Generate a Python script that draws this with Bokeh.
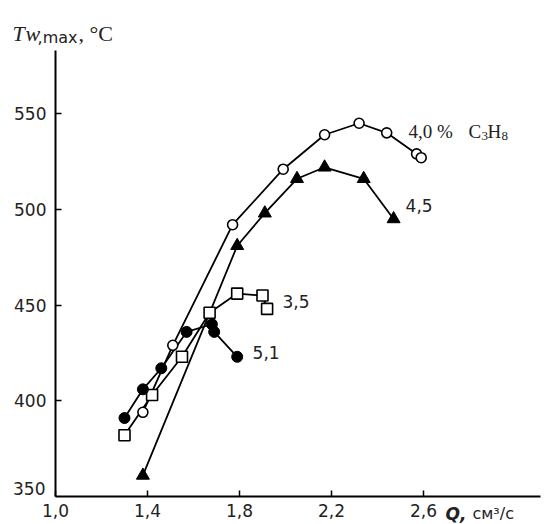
from bokeh.plotting import figure
from bokeh.models import Range1d, FixedTicker, Label
from bokeh.embed import file_html
from bokeh.resources import INLINE

# Data
q40 = [1.38, 1.51, 1.77, 1.99, 2.17, 2.32, 2.44, 2.57, 2.59]
t40 = [394, 429, 492, 521, 539, 545, 540, 529, 527]
q45 = [1.38, 1.79, 1.91, 2.05, 2.17, 2.34, 2.47]
t45 = [361, 481, 498, 516, 522, 516, 495]
q35 = [1.30, 1.42, 1.55, 1.67, 1.79, 1.90, 1.92]
t35 = [382, 403, 423, 446, 456, 455, 448]
q51 = [1.30, 1.38, 1.46, 1.57, 1.68, 1.69, 1.79]
t51 = [391, 406, 417, 436, 440, 436, 423]

x_ticks = [1.0, 1.4, 1.8, 2.2, 2.6]
x_tick_labels = ["1,0", "1,4", "1,8", "2,2", "2,6"]
y_ticks = [400, 450, 500, 550]
y_first_label = "350"

series_labels = ["4,5", "3,5", "5,1"]

X0, X1 = 1.0, 3.109
Y0, Y1 = 350, 583

# frame covers whole canvas; axes are drawn at fixed data locations
p = figure(width=551, height=524, output_backend="svg", toolbar_location=None,
           x_range=Range1d(0.7609, 3.1565), y_range=Range1d(335.37, 609.14),
           min_border_left=0, min_border_right=0, min_border_top=0, min_border_bottom=0)
p.background_fill_color = "white"
p.border_fill_color = "white"
p.outline_line_color = None
p.grid.grid_line_color = None

for ax in (p.xaxis, p.yaxis):
    ax.axis_line_width = 2
    ax.axis_line_color = "black"
    ax.major_tick_in = 6
    ax.major_tick_out = 0
    ax.minor_tick_line_color = None
    ax.major_tick_line_width = 1.5
    ax.major_tick_line_color = "black"
    ax.major_label_text_font = "DejaVu Sans"
    ax.major_label_text_font_size = "17px"
    ax.major_label_text_color = "#222222"

p.xaxis.fixed_location = Y0
p.xaxis.bounds = (X0, X1)
p.xaxis.ticker = FixedTicker(ticks=x_ticks)
p.xaxis.major_label_overrides = {t: l for t, l in zip(x_ticks, x_tick_labels)}
p.xaxis.major_label_standoff = 8

p.yaxis.fixed_location = X0
p.yaxis.bounds = (Y0, Y1)
p.yaxis.ticker = FixedTicker(ticks=y_ticks)
p.yaxis.major_label_standoff = 9

# raised "350" label at the corner, as in the original
p.add_layout(Label(x=0.9565, y=354.2, text=y_first_label, text_font="DejaVu Sans",
                   text_font_size="17px", text_align="right", text_baseline="middle",
                   text_color="#222222"))

lw = 1.8
p.line(q40, t40, line_color="black", line_width=lw)
p.line(q45, t45, line_color="black", line_width=lw)
p.line(q35, t35, line_color="black", line_width=lw)
p.line(q51, t51, line_color="black", line_width=lw)

p.scatter(q40, t40, marker="circle", size=10, fill_color="white", line_color="black", line_width=1.6)
p.scatter(q45, t45, marker="triangle", size=13, fill_color="black", line_color="black")
p.scatter(q35, t35, marker="square", size=11, fill_color="white", line_color="black", line_width=1.6)
p.scatter(q51, t51, marker="circle", size=11, fill_color="black", line_color="black")

# label of the 4,0 % C3H8 curve (with real subscripts)
serif = "Liberation Serif"
p.add_layout(Label(x=2.535, y=540.7, text="4,0 %", text_font=serif, text_font_size="19px",
                   text_baseline="alphabetic", text_color="#222222"))
p.add_layout(Label(x=2.796, y=540.7, text="C", text_font=serif, text_font_size="19px",
                   text_baseline="alphabetic", text_color="#222222"))
p.add_layout(Label(x=2.852, y=538.1, text="3", text_font=serif, text_font_size="13px",
                   text_baseline="alphabetic", text_color="#222222"))
p.add_layout(Label(x=2.878, y=540.7, text="H", text_font=serif, text_font_size="19px",
                   text_baseline="alphabetic", text_color="#222222"))
p.add_layout(Label(x=2.939, y=538.1, text="8", text_font=serif, text_font_size="13px",
                   text_baseline="alphabetic", text_color="#222222"))

# other series labels
p.add_layout(Label(x=2.522, y=502, text=series_labels[0], text_font="DejaVu Sans",
                   text_font_size="17px", text_baseline="middle", text_color="#222222"))
p.add_layout(Label(x=1.987, y=452, text=series_labels[1], text_font="DejaVu Sans",
                   text_font_size="17px", text_baseline="middle", text_color="#222222"))
p.add_layout(Label(x=1.857, y=425, text=series_labels[2], text_font="DejaVu Sans",
                   text_font_size="17px", text_baseline="middle", text_color="#222222"))

# y axis title
p.add_layout(Label(x=0.813, y=591.9, text="T", text_font=serif, text_font_style="italic",
                   text_font_size="22px", text_baseline="alphabetic", text_color="#222222"))
p.add_layout(Label(x=0.870, y=591.9, text="w", text_font=serif, text_font_style="italic",
                   text_font_size="22px", text_baseline="alphabetic", text_color="#222222"))
p.add_layout(Label(x=0.922, y=589.8, text=",max", text_font="DejaVu Sans",
                   text_font_size="16px", text_baseline="alphabetic", text_color="#222222"))
p.add_layout(Label(x=1.100, y=591.9, text=", \u00b0C", text_font=serif,
                   text_font_size="22px", text_baseline="alphabetic", text_color="#222222"))

# x axis title
p.add_layout(Label(x=2.696, y=341.0, text="Q,", text_font="DejaVu Sans", text_font_style="bold italic",
                   text_font_size="17px", text_baseline="alphabetic", text_color="#222222"))
p.add_layout(Label(x=2.813, y=341.0, text="\u0441\u043c\u00b3/\u0441", text_font="DejaVu Sans",
                   text_font_size="16px", text_baseline="alphabetic", text_color="#222222"))

open("out.html", "w").write(file_html(p, INLINE))
